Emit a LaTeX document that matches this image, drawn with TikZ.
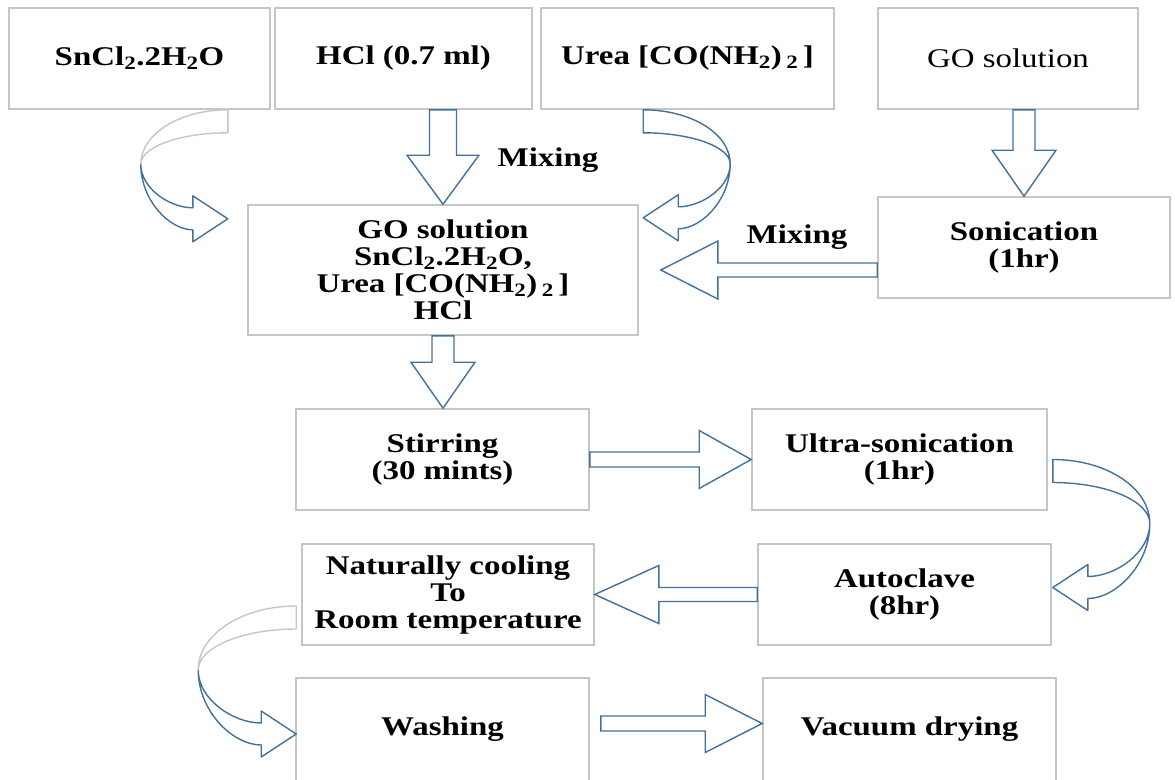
\documentclass[tikz,border=0pt]{standalone}
\usepackage{fontspec}
\setmainfont{Liberation Serif}[FakeStretch=1.22]
\usetikzlibrary{calc}

\definecolor{arrowblue}{HTML}{41719C}
\definecolor{boxgray}{HTML}{C6C6C6}

\tikzset{
  stage/.style={draw=boxgray, line width=1.6pt, align=center, inner sep=0pt,
    minimum width=293pt, minimum height=101pt, font=\fontsize{27}{27}\selectfont\bfseries},
  note/.style={font=\fontsize{27}{27}\selectfont\bfseries},
  band/.style={draw=arrowblue, line width=1.4pt, line join=round},
  block/.style={draw=arrowblue, fill=white, line width=1.4pt}
}

% straight block arrow: tail, tip, shaft half width, head length, head half width
\newcommand{\blockarrow}[5]{%
  \coordinate (head) at ($(#2)!#4pt!(#1)$);
  \draw[block] ($(#1)!#3pt!90:(#2)$) -- ($(head)!#3pt!90:(#2)$) -- ($(head)!#5pt!90:(#2)$) -- (#2)
    -- ($(head)!#5pt!-90:(#2)$) -- ($(head)!#3pt!-90:(#2)$) -- ($(#1)!#3pt!-90:(#2)$) -- cycle;
}

% curved block arrow: start, side (1 right, -1 left), width, height, colour of upper band
\newcommand{\bendarrow}[5]{%
  \begin{scope}[shift={(#1)}, xscale=#2]
    \draw[band, draw=#5] (0,0) .. controls ({0.55*#3},0) and (#3,{0.22*#4}) .. (#3,{0.5*#4})
      .. controls (#3,{23+0.45*(0.5*#4-23)}) and ({0.55*#3},23) .. (0,23) -- cycle;
    \draw[band] (#3,{0.5*#4}) .. controls (#3,{0.5*#4+0.55*(0.5*#4+11)}) and ({35+0.45*(#3-35)},{#4+11}) .. (35,{#4+11})
      -- (35,{#4+23}) -- (0,#4) -- (35,{#4-23}) -- (35,{#4-11})
      .. controls ({35+0.45*(#3-35)},{#4-11}) and (#3,{0.5*#4+0.55*(0.5*#4-11)}) .. (#3,{0.5*#4});
  \end{scope}}

\begin{document}
\begin{tikzpicture}[x=1pt, y=-1pt]
    \useasboundingbox (0,0) rectangle (1175,779);

    % starting materials
    \node[stage, minimum width=261pt] (sncl) at (139.5,58.5) {SnCl\textsubscript{2}.2H\textsubscript{2}O};
    \node[stage, minimum width=257pt] (hcl) at (403.5,58.5) {HCl (0.7 ml)};
    \node[stage] (urea) at (687.5,58.5) {Urea [CO(NH\textsubscript{2})\,\textsubscript{2}\,]};
    \node[stage, minimum width=260pt, font=\fontsize{27}{27}\selectfont] (gosol) at (1008,58.5) {GO solution};

    % mixture and sonication
    \node[stage, minimum width=390pt, minimum height=130pt] (mix) at (443,270)
        {GO solution\\SnCl\textsubscript{2}.2H\textsubscript{2}O,\\Urea [CO(NH\textsubscript{2})\,\textsubscript{2}\,]\\HCl};
    \node[stage, minimum width=292pt] (sonic) at (1024,247.5) {Sonication\\(1hr)};
    \node[note] (mixtop) at (548,160) {Mixing};
    \node[note] (mixside) at (797,237) {Mixing};

    % processing steps
    \node[stage] (stir) at (442.5,459.5) {Stirring\\(30 mints)};
    \node[stage, minimum width=295pt] (ultra) at (899.5,459.5) {Ultra-sonication\\(1hr)};
    \node[stage, minimum width=292pt] (cool) at (448,594.5) {Naturally cooling\\To\\Room temperature};
    \node[stage] (auto) at (904.5,594.5) {Autoclave\\(8hr)};
    \node[stage, minimum height=103pt] (wash) at (442.5,729.5) {Washing};
    \node[stage, minimum height=103pt] (vac) at (909.5,729.5) {Vacuum drying};

    % straight arrows
    \coordinate (hcltail) at (hcl.south -| mix.north);
    \blockarrow{hcltail}{mix.north}{13.5}{49}{36}
    \coordinate (gotail) at (gosol.south -| sonic.north);
    \blockarrow{gotail}{sonic.north}{11}{46}{32}
    \coordinate (stirtip) at (mix.south |- stir.north);
    \blockarrow{mix.south}{stirtip}{11}{46}{32}
    \coordinate (ultratip) at (stir.east -| ultra.west);
    \blockarrow{stir.east}{ultratip}{7.5}{52}{29}
    \coordinate (sonictail) at (sonic.west |- mix.east);
    \coordinate (mixtip) at ($(mix.east)+(22,0)$);
    \blockarrow{sonictail}{mixtip}{7}{57}{29}
    \coordinate (cooltip) at (auto.west -| cool.east);
    \blockarrow{auto.west}{cooltip}{7}{64}{29}
    \coordinate (washtail) at ($(wash.east)+(11,-6)$);
    \coordinate (vactip) at ($(vac.west)+(0,-6)$);
    \blockarrow{washtail}{vactip}{7.5}{57}{29}

    % curved arrows
    \coordinate (snclbend) at ($(sncl.south east)+(-43,0)$);
    \bendarrow{snclbend}{-1}{87}{109}{boxgray}
    \coordinate (ureabend) at ($(urea.south west)+(103,0)$);
    \bendarrow{ureabend}{1}{87}{108}{arrowblue}
    \coordinate (ultrabend) at ($(ultra.east)+(5,0)$);
    \bendarrow{ultrabend}{1}{97}{128}{arrowblue}
    \coordinate (coolbend) at ($(cool.west)+(-5,11.5)$);
    \bendarrow{coolbend}{-1}{98}{128}{boxgray}
\end{tikzpicture}
\end{document}
